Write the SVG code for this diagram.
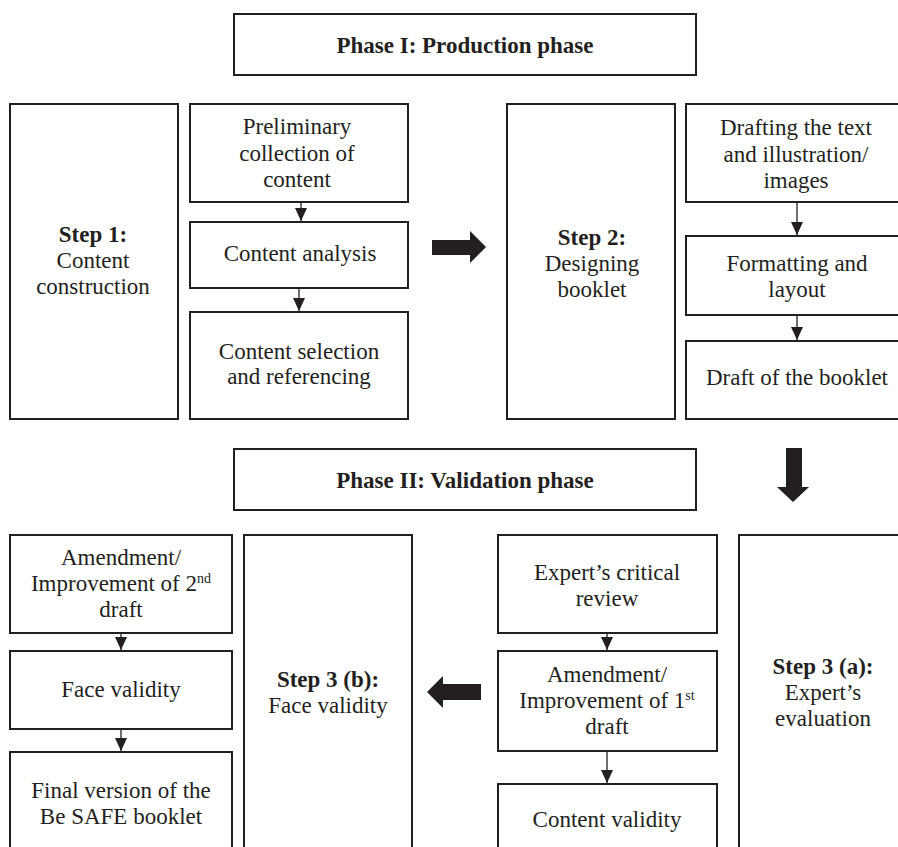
<svg xmlns="http://www.w3.org/2000/svg" width="898" height="847" viewBox="0 0 898 847">
<defs>
<marker id="ah" markerUnits="userSpaceOnUse" markerWidth="13" markerHeight="12" refX="13" refY="6" orient="auto">
<path d="M0,0 L13,6 L0,12 z" fill="#231f20"/>
</marker>
<style>
.box{fill:#fff;stroke:#231f20;stroke-width:2}
text{font-family:"Liberation Serif","Times New Roman",serif;font-size:23px;fill:#231f20;text-anchor:middle}
.b{font-weight:bold}
.sup{font-size:14px}
.con{stroke:#231f20;stroke-width:1.3;fill:none}
.big{fill:#231f20}
</style>
</defs>
<rect width="898" height="847" fill="#fff"/>

<g id="phase1">
<rect class="box" x="234" y="14" width="462" height="61"/>
<text class="b" x="465" y="53">Phase I: Production phase</text>
</g>

<g id="step1">
<rect class="box" x="10" y="104" width="168" height="315"/>
<text x="93" y="242"><tspan class="b">Step 1:</tspan><tspan x="93" dy="26">Content</tspan><tspan x="93" dy="26">construction</tspan></text>
</g>
<g id="prelim">
<rect class="box" x="190" y="104" width="218" height="98"/>
<text x="297" y="134">Preliminary<tspan x="297" dy="26.5">collection of</tspan><tspan x="297" dy="26.5">content</tspan></text>
</g>
<g id="analysis">
<rect class="box" x="190" y="222" width="218" height="66"/>
<text x="300" y="261">Content analysis</text>
</g>
<g id="selection">
<rect class="box" x="190" y="312" width="218" height="107"/>
<text x="299" y="359">Content selection<tspan x="299" dy="25">and referencing</tspan></text>
</g>

<g id="step2">
<rect class="box" x="507" y="104" width="168" height="315"/>
<text x="592" y="245"><tspan class="b">Step 2:</tspan><tspan x="592" dy="26">Designing</tspan><tspan x="592" dy="26">booklet</tspan></text>
</g>
<g id="drafting">
<rect class="box" x="686" y="104" width="222" height="98"/>
<text x="796" y="135">Drafting the text<tspan x="796" dy="26.5">and illustration/</tspan><tspan x="796" dy="26">images</tspan></text>
</g>
<g id="formatting">
<rect class="box" x="686" y="236" width="222" height="79"/>
<text x="797" y="271">Formatting and<tspan x="797" dy="25.5">layout</tspan></text>
</g>
<g id="draft">
<rect class="box" x="686" y="341" width="222" height="78"/>
<text x="797" y="385">Draft of the booklet</text>
</g>

<g id="phase2">
<rect class="box" x="234" y="449" width="462" height="61"/>
<text class="b" x="465" y="488">Phase II: Validation phase</text>
</g>

<g id="amend2">
<rect class="box" x="10" y="535" width="222" height="98"/>
<text x="121" y="565">Amendment/<tspan x="121" dy="25.5">Improvement of 2</tspan><tspan class="sup" dy="-8">nd</tspan><tspan x="121" dy="34.5">draft</tspan></text>
</g>
<g id="face">
<rect class="box" x="10" y="651" width="222" height="78"/>
<text x="121" y="697">Face validity</text>
</g>
<g id="final">
<rect class="box" x="10" y="752" width="222" height="110"/>
<text x="121" y="798">Final version of the<tspan x="121" dy="25.5">Be SAFE booklet</tspan></text>
</g>
<g id="step3b">
<rect class="box" x="244" y="535" width="168" height="327"/>
<text x="328" y="687"><tspan class="b">Step 3 (b):</tspan><tspan x="328" dy="26">Face validity</tspan></text>
</g>

<g id="review">
<rect class="box" x="498" y="535" width="219" height="98"/>
<text x="607" y="580">Expert’s critical<tspan x="607" dy="26">review</tspan></text>
</g>
<g id="amend1">
<rect class="box" x="498" y="651" width="219" height="100"/>
<text x="607" y="682">Amendment/<tspan x="607" dy="25.5">Improvement of 1</tspan><tspan class="sup" dy="-8">st</tspan><tspan x="607" dy="34">draft</tspan></text>
</g>
<g id="validity">
<rect class="box" x="498" y="784" width="219" height="78"/>
<text x="607" y="827">Content validity</text>
</g>
<g id="step3a">
<rect class="box" x="739" y="535" width="168" height="327"/>
<text x="823" y="674"><tspan class="b">Step 3 (a):</tspan><tspan x="823" dy="26">Expert’s</tspan><tspan x="823" dy="26">evaluation</tspan></text>
</g>

<g id="connectors">
<line class="con" x1="301" y1="202" x2="301" y2="221" marker-end="url(#ah)"/>
<line class="con" x1="299" y1="288" x2="299" y2="311" marker-end="url(#ah)"/>
<line class="con" x1="797" y1="202" x2="797" y2="235" marker-end="url(#ah)"/>
<line class="con" x1="797" y1="315" x2="797" y2="340" marker-end="url(#ah)"/>
<line class="con" x1="607" y1="633" x2="607" y2="650" marker-end="url(#ah)"/>
<line class="con" x1="607" y1="751" x2="607" y2="783" marker-end="url(#ah)"/>
<line class="con" x1="121" y1="633" x2="121" y2="650" marker-end="url(#ah)"/>
<line class="con" x1="121" y1="729" x2="121" y2="751" marker-end="url(#ah)"/>
<polygon class="big" points="432,240 470,240 470,231 486,247 470,263 470,255 432,255"/>
<polygon class="big" points="786,448 802,448 802,487 809,487 793,502 777,487 786,487"/>
<polygon class="big" points="481,684 443,684 443,676 427,692 443,708 443,700 481,700"/>
</g>
</svg>
